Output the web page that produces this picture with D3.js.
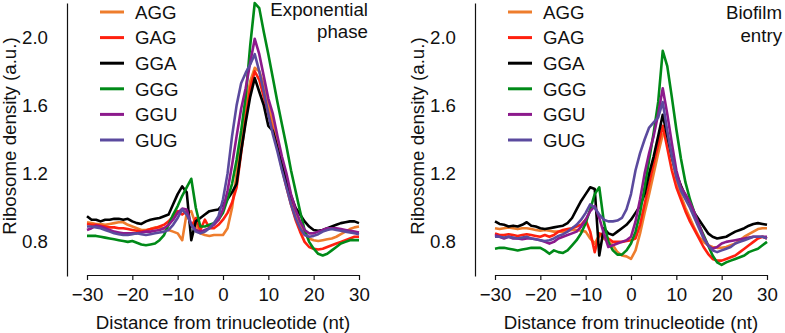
<!DOCTYPE html>
<html>
<head>
<meta charset="utf-8">
<script src="https://cdn.jsdelivr.net/npm/d3@7"></script>
<style>
  html, body { margin: 0; padding: 0; background: #fff; }
  svg { display: block; font-family: "Liberation Sans", Arial, sans-serif; }
  .lbl { font-size: 18.7px; fill: #111; }
</style>
</head>
<body>
<svg id="chart" width="785" height="333"></svg>
<script>
// x positions (nt from trinucleotide)
var positions = d3.range(-30, 31);
var codons = ['AGG', 'GAG', 'GGA', 'GGG', 'GGU', 'GUG'];
var codonColors = ['#ee7d2d', '#ff200f', '#000000', '#008a18', '#8c1a8c', '#5b4a9e'];
var xTicks = [-30, -20, -10, 0, 10, 20, 30];
var yTicks = [0.8, 1.2, 1.6, 2.0];

// Exponential phase
var expAGG = [0.915, 0.91, 0.905, 0.905, 0.9, 0.905, 0.91, 0.915, 0.915, 0.9,
  0.89, 0.88, 0.87, 0.87, 0.875, 0.885, 0.88, 0.88, 0.87, 0.86,
  0.85, 0.81, 0.97, 0.98, 0.9, 0.85, 0.84, 0.835, 0.84, 0.84,
  0.84, 0.88, 1.0, 1.2, 1.42, 1.6, 1.74, 1.82, 1.8, 1.72,
  1.6, 1.5, 1.38, 1.27, 1.16, 1.06, 0.97, 0.9, 0.85, 0.82,
  0.81, 0.805, 0.81, 0.815, 0.82, 0.83, 0.845, 0.86, 0.875, 0.885,
  0.89];
var expGAG = [0.905, 0.9, 0.9, 0.895, 0.89, 0.885, 0.885, 0.88, 0.88, 0.875,
  0.87, 0.865, 0.86, 0.865, 0.875, 0.88, 0.89, 0.9, 0.92, 0.95,
  0.98, 0.96, 0.98, 0.89, 0.94, 0.87, 0.93, 0.88, 0.88, 0.9,
  0.93, 0.97, 1.03, 1.12, 1.32, 1.52, 1.7, 1.8, 1.75, 1.65,
  1.55, 1.45, 1.35, 1.23, 1.12, 1.02, 0.93, 0.86, 0.8, 0.77,
  0.76, 0.755, 0.76, 0.77, 0.78, 0.79, 0.8, 0.81, 0.82, 0.83,
  0.83];
var expGGA = [0.95, 0.93, 0.93, 0.92, 0.93, 0.93, 0.935, 0.935, 0.93, 0.935,
  0.92, 0.91, 0.905, 0.92, 0.93, 0.935, 0.94, 0.95, 0.96, 1.02,
  1.08, 1.125, 1.09, 0.81, 0.92, 0.94, 0.96, 0.98, 0.985, 0.99,
  1.02, 1.05, 1.09, 1.14, 1.33, 1.5, 1.65, 1.76, 1.68, 1.6,
  1.48, 1.45, 1.35, 1.25, 1.15, 1.07, 1.0, 0.96, 0.92, 0.89,
  0.87, 0.865, 0.87, 0.88, 0.89, 0.9, 0.91, 0.915, 0.92, 0.92,
  0.91];
var expGGG = [0.835, 0.835, 0.835, 0.83, 0.825, 0.82, 0.815, 0.81, 0.805, 0.8,
  0.805, 0.795, 0.785, 0.78, 0.785, 0.79, 0.81, 0.84, 0.9, 0.96,
  1.01, 1.07, 1.12, 1.17, 1.0, 0.89, 0.89, 0.9, 0.91, 0.93,
  0.97, 1.05, 1.14, 1.28, 1.45, 1.65, 1.95, 2.2, 2.17, 2.03,
  1.9, 1.76, 1.62, 1.49, 1.36, 1.22, 1.1, 0.98, 0.87, 0.8,
  0.76, 0.73, 0.72, 0.73, 0.75, 0.77, 0.79, 0.8, 0.81, 0.81,
  0.81];
var expGGU = [0.87, 0.88, 0.895, 0.89, 0.88, 0.87, 0.86, 0.855, 0.85, 0.85,
  0.85, 0.85, 0.855, 0.86, 0.86, 0.865, 0.87, 0.88, 0.9, 0.93,
  0.97, 0.995, 0.99, 0.9, 0.87, 0.86, 0.87, 0.88, 0.9, 0.93,
  0.99, 1.1, 1.25, 1.42, 1.58, 1.7, 1.85, 1.99, 1.9, 1.77,
  1.64, 1.55, 1.42, 1.3, 1.2, 1.08, 0.99, 0.92, 0.87, 0.85,
  0.85, 0.86, 0.87, 0.88, 0.88, 0.88, 0.875, 0.87, 0.865, 0.86,
  0.855];
var expGUG = [0.89, 0.89, 0.885, 0.88, 0.87, 0.86, 0.85, 0.845, 0.84, 0.84,
  0.845, 0.85, 0.845, 0.84, 0.845, 0.85, 0.855, 0.86, 0.87, 0.9,
  0.94, 0.99, 0.96, 0.9, 0.86, 0.85, 0.86, 0.88, 0.91, 0.95,
  1.05, 1.2, 1.42, 1.6, 1.73, 1.79, 1.84, 1.9, 1.8, 1.68,
  1.55, 1.43, 1.33, 1.22, 1.12, 1.02, 0.94, 0.88, 0.84, 0.83,
  0.835, 0.845, 0.86, 0.87, 0.875, 0.87, 0.865, 0.86, 0.855, 0.85,
  0.845];

// Biofilm entry
var bioAGG = [0.88, 0.875, 0.88, 0.885, 0.88, 0.875, 0.88, 0.88, 0.875, 0.87,
  0.865, 0.87, 0.865, 0.86, 0.86, 0.86, 0.865, 0.87, 0.87, 0.865,
  0.86, 0.82, 0.79, 0.84, 0.82, 0.8, 0.78, 0.74, 0.72, 0.715,
  0.7, 0.75, 0.85, 0.97, 1.08, 1.2, 1.32, 1.43, 1.44, 1.3,
  1.17, 1.07, 1.0, 0.94, 0.88, 0.83, 0.8, 0.78, 0.77, 0.765,
  0.765, 0.77, 0.78, 0.79, 0.81, 0.83, 0.845, 0.86, 0.875, 0.88,
  0.88];
var bioGAG = [0.85, 0.84, 0.84, 0.845, 0.84, 0.835, 0.84, 0.845, 0.84, 0.835,
  0.83, 0.84, 0.83, 0.84, 0.86, 0.87, 0.875, 0.88, 0.89, 0.9,
  0.93, 0.86, 0.74, 0.85, 0.84, 0.82, 0.8, 0.8, 0.8, 0.805,
  0.81, 0.82, 0.9, 1.02, 1.14, 1.26, 1.37, 1.48, 1.35, 1.22,
  1.12, 1.05, 0.98, 0.92, 0.87, 0.82, 0.77, 0.73, 0.7, 0.69,
  0.69, 0.7, 0.71, 0.72, 0.74, 0.76, 0.78, 0.8, 0.82, 0.83,
  0.82];
var bioGGA = [0.92, 0.905, 0.9, 0.89, 0.895, 0.89, 0.9, 0.915, 0.895, 0.89,
  0.88, 0.875, 0.88, 0.885, 0.89, 0.895, 0.91, 0.94, 0.99, 1.04,
  1.08, 1.12, 1.11, 0.72, 0.88, 0.85, 0.84, 0.86, 0.88, 0.9,
  0.93, 0.97, 1.01, 1.08, 1.2, 1.3, 1.42, 1.545, 1.42, 1.3,
  1.2, 1.13, 1.07, 1.02, 0.97, 0.93, 0.89, 0.85, 0.83, 0.82,
  0.825, 0.83, 0.845, 0.86, 0.87, 0.88, 0.895, 0.905, 0.91, 0.905,
  0.9];
var bioGGG = [0.76, 0.765, 0.765, 0.76, 0.755, 0.75, 0.755, 0.76, 0.765, 0.765,
  0.765, 0.75, 0.73, 0.75, 0.74, 0.735, 0.75, 0.78, 0.81, 0.85,
  0.91, 0.99, 1.08, 1.12, 0.92, 0.8, 0.75, 0.725, 0.725, 0.75,
  0.79, 0.86, 0.97, 1.12, 1.28, 1.44, 1.62, 1.92, 1.83, 1.65,
  1.46, 1.29, 1.15, 1.05, 0.97, 0.9, 0.84, 0.78, 0.72, 0.68,
  0.665, 0.68, 0.69, 0.7, 0.71, 0.72, 0.74, 0.75, 0.76, 0.78,
  0.8];
var bioGGU = [0.84, 0.83, 0.82, 0.83, 0.82, 0.82, 0.815, 0.82, 0.82, 0.815,
  0.81, 0.8, 0.79, 0.8, 0.82, 0.83, 0.84, 0.85, 0.86, 0.89,
  0.93, 0.98, 1.01, 0.94, 0.85, 0.77, 0.78, 0.79, 0.8, 0.81,
  0.83, 0.92, 1.05, 1.2, 1.32, 1.42, 1.55, 1.7, 1.55, 1.38,
  1.22, 1.12, 1.08, 1.03, 0.97, 0.9, 0.83, 0.78, 0.76, 0.77,
  0.79, 0.8, 0.805, 0.81, 0.815, 0.82, 0.825, 0.83, 0.83, 0.83,
  0.83];
var bioGUG = [0.83, 0.83, 0.825, 0.83, 0.825, 0.82, 0.825, 0.83, 0.82, 0.815,
  0.81, 0.805, 0.81, 0.82, 0.835, 0.845, 0.86, 0.88, 0.9, 0.93,
  0.97, 1.02, 1.0, 0.96, 0.93, 0.92, 0.92, 0.925, 0.94, 0.99,
  1.08, 1.22, 1.32, 1.4, 1.47, 1.5, 1.53, 1.62, 1.45, 1.3,
  1.18, 1.1, 1.05, 1.0, 0.94, 0.88, 0.82, 0.78, 0.75, 0.74,
  0.75, 0.76, 0.77, 0.79, 0.8, 0.81, 0.82, 0.83, 0.83, 0.83,
  0.82];

var svg = d3.select('#chart');

function drawPanel(opts) {
    var g = svg.append('g');
    var x = d3.scaleLinear().domain([-30, 30]).range([opts.x0, opts.x0 + 272]);
    var y = d3.scaleLinear().domain([0.6, 2.2]).range([276, 3]);

    // y axis: plain line with labels, no tick marks
    var yAxis = g.append('g')
        .attr('transform', 'translate(' + opts.yAxisX + ',0)')
        .call(d3.axisLeft(y).tickValues(yTicks).tickSize(0).tickSizeOuter(0)
            .tickPadding(19).tickFormat(d3.format('.1f')));
    yAxis.select('.domain').attr('stroke', '#111').attr('stroke-width', 1.2);
    yAxis.selectAll('text').attr('class', 'lbl').attr('font-size', null).attr('fill', '#111');

    var xAxis = g.append('g')
        .attr('transform', 'translate(0,275)')
        .call(d3.axisBottom(x).tickValues(xTicks).tickSize(5).tickSizeOuter(0)
            .tickPadding(8).tickFormat(d3.format('d')));
    xAxis.select('.domain').attr('stroke', '#111').attr('stroke-width', 1.2);
    xAxis.selectAll('.tick line').attr('stroke', '#111').attr('stroke-width', 1.2);
    xAxis.selectAll('text').attr('class', 'lbl').attr('font-size', null).attr('fill', '#111');

    g.append('text').attr('class', 'lbl')
        .attr('x', x(0)).attr('y', 329)
        .attr('text-anchor', 'middle')
        .text('Distance from trinucleotide (nt)');

    g.append('text').attr('class', 'lbl')
        .attr('transform', 'translate(' + (opts.yTitleX + 6.5) + ',136) rotate(-90)')
        .attr('text-anchor', 'middle')
        .text('Ribosome density (a.u.)');

    var line = d3.line()
        .x(function(d, i) { return x(positions[i]); })
        .y(function(d) { return y(d); });

    g.selectAll('path.series')
        .data(opts.series)
        .join('path')
        .attr('class', 'series')
        .attr('fill', 'none')
        .attr('stroke', function(d, i) { return codonColors[i]; })
        .attr('stroke-width', 2.6)
        .attr('stroke-linejoin', 'round')
        .attr('d', line);

    // legend
    var leg = g.append('g');
    codons.forEach(function(c, i) {
        var ly = 12 + i * 25.6;
        leg.append('line')
            .attr('x1', opts.legX).attr('x2', opts.legX + 24)
            .attr('y1', ly).attr('y2', ly)
            .attr('stroke', codonColors[i]).attr('stroke-width', 3);
        leg.append('text').attr('class', 'lbl')
            .attr('x', opts.legX + 35).attr('y', ly + 6.7)
            .text(c);
    });

    opts.title.forEach(function(t, i) {
        g.append('text').attr('class', 'lbl')
            .attr('x', opts.titleX).attr('y', opts.titleY[i])
            .attr('text-anchor', 'end')
            .text(t);
    });
}

drawPanel({
    x0: 87, yAxisX: 67, yTitleX: 9.5, legX: 100,
    titleX: 368, titleY: [16, 38], title: ['Exponential', 'phase'],
    series: [expAGG, expGAG, expGGA, expGGG, expGGU, expGUG]
});
drawPanel({
    x0: 495, yAxisX: 475, yTitleX: 417.5, legX: 508,
    titleX: 782, titleY: [19, 42], title: ['Biofilm', 'entry'],
    series: [bioAGG, bioGAG, bioGGA, bioGGG, bioGGU, bioGUG]
});
</script>
</body>
</html>
